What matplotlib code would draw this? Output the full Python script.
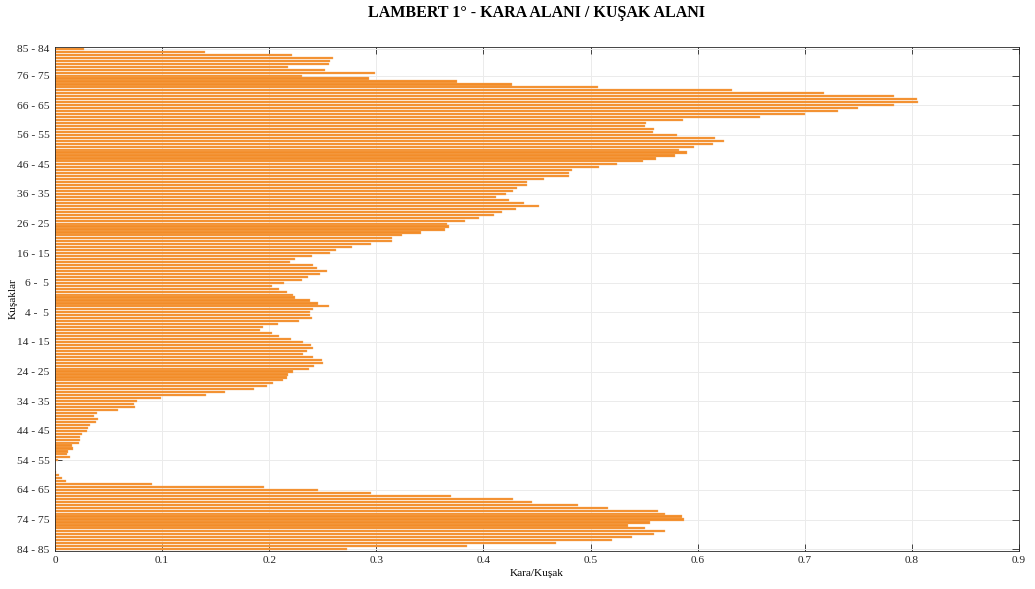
import numpy as np
import matplotlib
matplotlib.use("Agg")
import matplotlib.pyplot as plt

# kara alani / kusak alani, 1 derecelik kusaklar
# kuzey: 85-84 ... 1-0
north_ratio = [0.027, 0.140, 0.221, 0.260, 0.257, 0.256, 0.218, 0.252, 0.299, 0.231,
               0.293, 0.375, 0.427, 0.507, 0.632, 0.718, 0.783, 0.805, 0.806, 0.783,
               0.750, 0.731, 0.700, 0.658, 0.586, 0.552, 0.551, 0.559, 0.558, 0.581,
               0.616, 0.625, 0.614, 0.597, 0.583, 0.590, 0.579, 0.561, 0.549, 0.525,
               0.508, 0.483, 0.480, 0.480, 0.457, 0.441, 0.441, 0.431, 0.428, 0.421,
               0.412, 0.424, 0.438, 0.452, 0.430, 0.417, 0.410, 0.396, 0.383, 0.366,
               0.368, 0.364, 0.342, 0.324, 0.315, 0.315, 0.295, 0.277, 0.262, 0.257,
               0.240, 0.224, 0.219, 0.241, 0.245, 0.254, 0.247, 0.236, 0.231, 0.214,
               0.203, 0.209, 0.217, 0.222, 0.224]
# guney: 0-1 ... 84-85
south_ratio = [0.238, 0.246, 0.256, 0.241, 0.238, 0.238, 0.240, 0.228, 0.208, 0.194,
               0.191, 0.203, 0.209, 0.220, 0.232, 0.239, 0.241, 0.235, 0.232, 0.241,
               0.249, 0.250, 0.242, 0.237, 0.222, 0.218, 0.217, 0.213, 0.204, 0.198,
               0.186, 0.159, 0.141, 0.099, 0.077, 0.074, 0.075, 0.059, 0.039, 0.036,
               0.040, 0.038, 0.033, 0.031, 0.030, 0.025, 0.023, 0.023, 0.022, 0.016,
               0.017, 0.012, 0.011, 0.014, 0.0025, 0.0, 0.0, 0.0, 0.0006, 0.0035,
               0.007, 0.0105, 0.091, 0.195, 0.246, 0.295, 0.370, 0.428, 0.445, 0.488,
               0.516, 0.563, 0.570, 0.585, 0.587, 0.556, 0.535, 0.551, 0.570, 0.559,
               0.539, 0.520, 0.468, 0.385, 0.273]

tick_idx = [0, 9, 19, 29, 39, 49, 59, 69, 79, 89, 99, 109, 119, 129, 139, 149, 159, 169]
tick_labels = ['85 - 84', '76 - 75', '66 - 65', '56 - 55', '46 - 45', '36 - 35',
               '26 - 25', '16 - 15', '6 -  5', '4 -  5', '14 - 15', '24 - 25',
               '34 - 35', '44 - 45', '54 - 55', '64 - 65', '74 - 75', '84 - 85']

ratio = np.array(north_ratio + south_ratio)
pos = np.arange(len(ratio))

plt.rcParams['font.family'] = ['Liberation Serif', 'DejaVu Serif']

fig = plt.figure(figsize=(10.35, 5.89), dpi=100)
ax = fig.add_axes([0.0531, 0.0652, 0.9314, 0.8542])

ax.barh(pos, ratio, height=0.72, color='#F28C28', edgecolor='#F8B06A', linewidth=0.25, zorder=2)

ax.set_xlim(0, 0.9)
ax.set_ylim(len(ratio) - 0.5, -0.5)
ax.set_xticks(np.arange(0, 0.91, 0.1))
ax.set_xticklabels(['0', '0.1', '0.2', '0.3', '0.4', '0.5', '0.6', '0.7', '0.8', '0.9'])
ax.set_yticks(tick_idx)
ax.set_yticklabels(tick_labels)
ax.tick_params(direction='in', length=5, width=0.6, labelsize=8.2, colors='#262626',
               top=True, right=True, pad=4)
ax.grid(True, color='#EBEBEB', linewidth=0.7, zorder=0)
ax.set_axisbelow(True)
for s in ax.spines.values():
    s.set_color('#262626')
    s.set_linewidth(0.6)

ax.set_title('LAMBERT 1° - KARA ALANI / KUŞAK ALANI', fontsize=11.5, fontweight='bold', pad=22)
ax.set_xlabel('Kara/Kuşak', fontsize=8.2, labelpad=3)
ax.set_ylabel('Kuşaklar', fontsize=8.2, labelpad=-1)

fig.savefig('out.png', dpi=100)
